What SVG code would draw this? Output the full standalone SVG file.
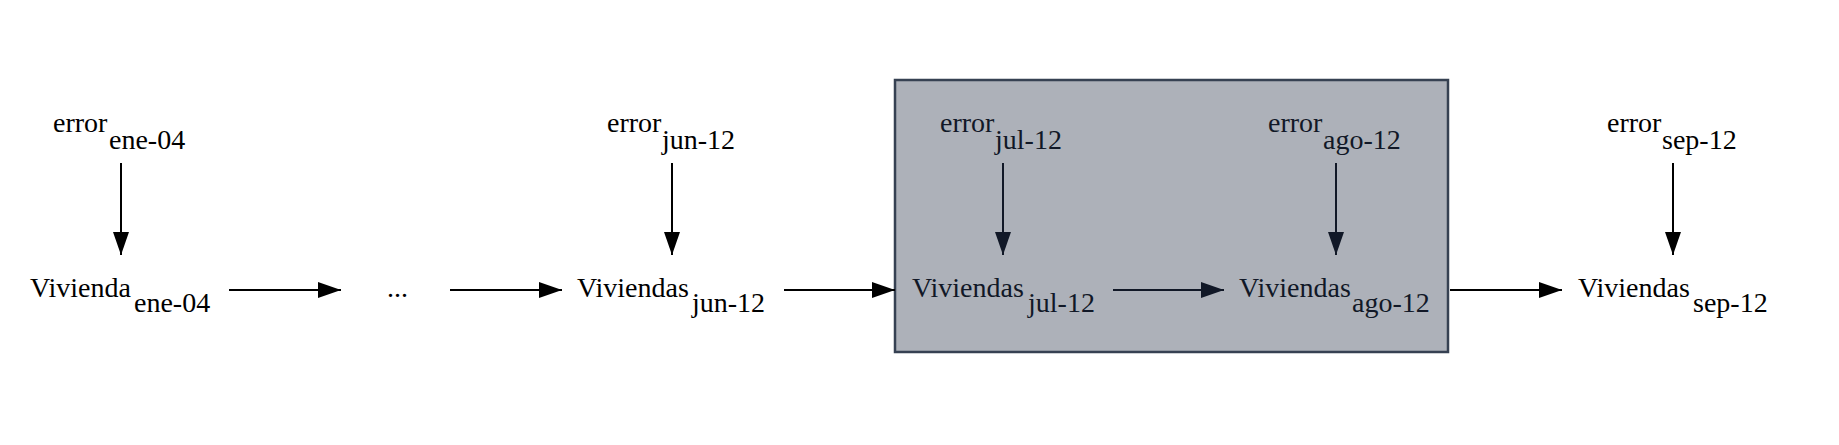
<svg xmlns="http://www.w3.org/2000/svg" width="1839" height="445" viewBox="0 0 1839 445">
<style>
  text { font-family: "Liberation Serif", "Times New Roman", serif; font-size: 28px; fill: #000; }
  .in text { fill: #111827; }
  .edge { stroke: #000; stroke-width: 2; fill: none; marker-end: url(#arr); }
  .edge.in { stroke: #111827; marker-end: url(#arrIn); }
</style>
<defs>
  <marker id="arr" markerUnits="userSpaceOnUse" markerWidth="23" markerHeight="16" refX="23" refY="8" orient="auto">
    <path d="M0,0 L23,8 L0,16 Z" fill="#000"/>
  </marker>
  <marker id="arrIn" markerUnits="userSpaceOnUse" markerWidth="23" markerHeight="16" refX="23" refY="8" orient="auto">
    <path d="M0,0 L23,8 L0,16 Z" fill="#111827"/>
  </marker>
</defs>
<rect width="1839" height="445" fill="#fff"/>
<g id="cluster">
  <rect x="895" y="80" width="553" height="272" fill="#adb1b9" stroke="#364152" stroke-width="2.5"/>
</g>
<g id="connectors">
  <line class="edge" x1="121" y1="163" x2="121" y2="255"/>
  <line class="edge" x1="672" y1="163" x2="672" y2="255"/>
  <line class="edge in" x1="1003" y1="163" x2="1003" y2="255"/>
  <line class="edge in" x1="1336" y1="163" x2="1336" y2="255"/>
  <line class="edge" x1="1673" y1="163" x2="1673" y2="255"/>
  <line class="edge" x1="229" y1="290" x2="341" y2="290"/>
  <line class="edge" x1="450" y1="290" x2="562" y2="290"/>
  <line class="edge" x1="784" y1="290" x2="895" y2="290"/>
  <line class="edge in" x1="1113" y1="290" x2="1224" y2="290"/>
  <line class="edge" x1="1450" y1="290" x2="1562" y2="290"/>
</g>
<g id="err-ene04"><text x="53" y="132">error</text><text x="109" y="149">ene-04</text></g>
<g id="viv-ene04"><text x="30" y="297">Vivienda</text><text x="134" y="312">ene-04</text></g>
<g id="dots"><text x="387" y="297">...</text></g>
<g id="err-jun12"><text x="607" y="132">error</text><text x="662" y="149">jun-12</text></g>
<g id="viv-jun12"><text x="577" y="297">Viviendas</text><text x="692" y="312">jun-12</text></g>
<g id="err-jul12" class="in"><text x="940" y="132">error</text><text x="995" y="149">jul-12</text></g>
<g id="viv-jul12" class="in"><text x="912" y="297">Viviendas</text><text x="1028" y="312">jul-12</text></g>
<g id="err-ago12" class="in"><text x="1268" y="132">error</text><text x="1323" y="149">ago-12</text></g>
<g id="viv-ago12" class="in"><text x="1239" y="297">Viviendas</text><text x="1352" y="312">ago-12</text></g>
<g id="err-sep12"><text x="1607" y="132">error</text><text x="1662" y="149">sep-12</text></g>
<g id="viv-sep12"><text x="1578" y="297">Viviendas</text><text x="1693" y="312">sep-12</text></g>
</svg>
